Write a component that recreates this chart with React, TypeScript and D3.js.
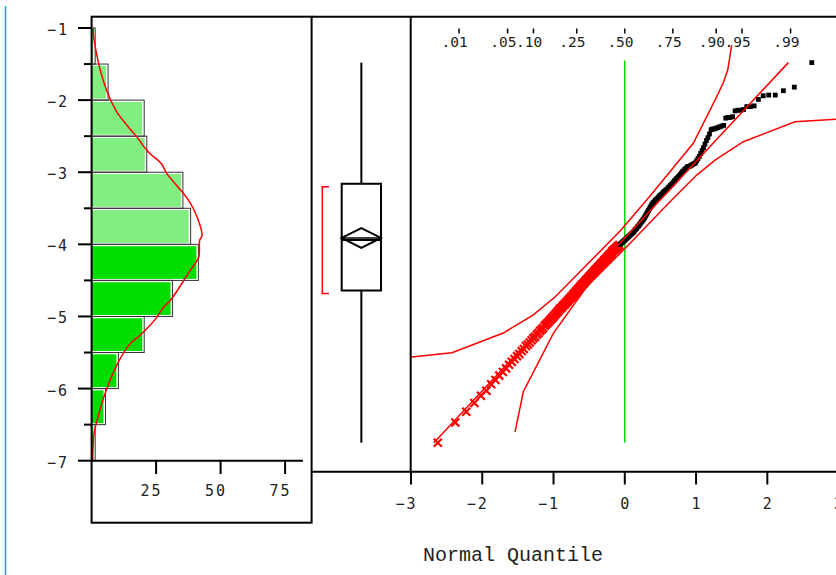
import React from 'react';
import * as d3 from 'd3';

const W = 836;
const H = 575;

const values = [
  -6.75,
  -6.47, -6.32, -6.2, -6.1, -6.03,
  -5.94, -5.88, -5.82, -5.77, -5.72, -5.67, -5.63, -5.59, -5.55, -5.52,
  -5.48, -5.45, -5.41, -5.39, -5.36, -5.33, -5.3, -5.28, -5.25, -5.23,
  -5.2, -5.18, -5.16, -5.13, -5.11, -5.09, -5.07, -5.05, -5.03, -5.01,
  -4.99, -4.97, -4.95, -4.93, -4.91, -4.89, -4.88, -4.86, -4.84, -4.83,
  -4.81, -4.8, -4.78, -4.76, -4.75, -4.73, -4.72, -4.7, -4.68, -4.67,
  -4.65, -4.64, -4.62, -4.61, -4.59, -4.58, -4.56, -4.55, -4.54, -4.52, -4.51,
  -4.49, -4.48, -4.47, -4.45, -4.44, -4.43, -4.41, -4.4, -4.39, -4.37,
  -4.36, -4.35, -4.34, -4.32, -4.31, -4.3, -4.29, -4.27, -4.26, -4.25,
  -4.24, -4.22, -4.21, -4.2, -4.19, -4.18, -4.16, -4.15, -4.14, -4.13,
  -4.12, -4.1, -4.09, -4.08, -4.07, -4.06, -4.05, -4.04, -4.03, -4.02, -4.01,
  -4.0, -3.99, -3.98, -3.97, -3.96, -3.95, -3.94, -3.93, -3.92, -3.91,
  -3.9, -3.89, -3.88, -3.87, -3.86, -3.85, -3.84, -3.83, -3.82,
  -3.8, -3.79, -3.78, -3.76, -3.75, -3.74, -3.72, -3.71, -3.69, -3.68,
  -3.66, -3.65, -3.63, -3.61, -3.59, -3.57, -3.55, -3.53, -3.51,
  -3.49, -3.47, -3.45, -3.43, -3.42, -3.41, -3.39, -3.38, -3.37, -3.36,
  -3.345, -3.33, -3.32, -3.31, -3.3, -3.28, -3.27, -3.26, -3.25, -3.24,
  -3.23, -3.21, -3.2, -3.18, -3.17, -3.16, -3.14, -3.12, -3.11, -3.09,
  -3.08, -3.06, -3.05,
  -3.03, -3.01, -2.99, -2.98, -2.96, -2.95, -2.93, -2.92, -2.92, -2.91,
  -2.9, -2.89, -2.88, -2.87, -2.84, -2.81, -2.78, -2.74, -2.7, -2.66,
  -2.61, -2.56,
  -2.52, -2.47, -2.41, -2.4, -2.4, -2.39, -2.38, -2.37, -2.36, -2.35,
  -2.25, -2.24, -2.24, -2.23, -2.15, -2.14, -2.14, -2.13, -2.09, -2.09, -2.08,
  -1.99, -1.94, -1.93, -1.93, -1.87, -1.82,
  -1.48,
];

const yTicks = [-1, -2, -3, -4, -5, -6, -7];
const yMinorTicks = [-1.5, -2.5, -3.5, -4.5, -5.5, -6.5];
const countTicks = [25, 50, 75];
const quantileTicks = [-3, -2, -1, 0, 1, 2, 3];
const probTicks = [0.01, 0.05, 0.1, 0.25, 0.5, 0.75, 0.9, 0.95, 0.99];
const probLabels = ['.01', '.05', '.10', '.25', '.50', '.75', '.90', '.95', '.99'];

// smooth density curve over the histogram (value, height in counts)
const densityValues = [-1.0, -1.17, -1.77, -2.16, -2.51, -2.72, -2.88, -3.02, -3.39, -3.62, -3.88, -3.94,
  -4.18, -4.36, -4.75, -4.89, -5.03, -5.26, -5.38, -5.63, -6.03, -6.47, -6.63, -7.0];
const densityCounts = [0.6, 1.0, 4.9, 9.7, 17.5, 22.0, 27.0, 29.2, 37.6, 40.9, 42.8, 41.9,
  41.5, 38.2, 31.1, 27.5, 24.9, 18.8, 14.9, 10.4, 5.6, 1.9, 0.9, 0.4];

// confidence bands of the quantile plot (normal quantile, value)
const upperBandQ = [-2.99, -2.425, -1.705, -1.288, -0.979, -0.053, 0.354, 0.961, 1.266, 1.382, 1.444, 1.5];
const upperBandV = [-5.563, -5.503, -5.23, -4.981, -4.731, -3.802, -3.33, -2.599, -1.999, -1.759, -1.583, -1.236];
const lowerBandQ = [-1.54, -1.424, -1.003, -0.535, 0.027, 0.634, 1.009, 1.266, 1.663, 2.388, 2.963];
const lowerBandV = [-6.599, -6.044, -5.234, -4.588, -4.033, -3.409, -3.039, -2.831, -2.577, -2.3, -2.266];

function probit(p: number): number {
  const a = [-39.69683028665376, 220.9460984245205, -275.9285104469687, 138.357751867269, -30.66479806614716, 2.506628277459239];
  const b = [-54.47609879822406, 161.5858368580409, -155.6989798598866, 66.80131188771972, -13.28068155288572];
  const c = [-0.007784894002430293, -0.3223964580411365, -2.400758277161838, -2.549732539343734, 4.374664141464968, 2.938163982698783];
  const d = [0.007784695709041462, 0.3224671290700398, 2.445134137142996, 3.754408661907416];
  const lo = 0.02425;
  if (p < lo) {
    const q = Math.sqrt(-2 * Math.log(p));
    return (((((c[0] * q + c[1]) * q + c[2]) * q + c[3]) * q + c[4]) * q + c[5]) / ((((d[0] * q + d[1]) * q + d[2]) * q + d[3]) * q + 1);
  }
  if (p > 1 - lo) return -probit(1 - p);
  const q = p - 0.5;
  const r = q * q;
  return (((((a[0] * r + a[1]) * r + a[2]) * r + a[3]) * r + a[4]) * r + a[5]) * q /
    (((((b[0] * r + b[1]) * r + b[2]) * r + b[3]) * r + b[4]) * r + 1);
}

const fmt = (v: number) => (v < 0 ? '\u2212' + Math.abs(v) : String(v));
const TICK_FONT = "'DejaVu Sans Mono', monospace";

export default function App() {
  const y = d3.scaleLinear().domain([-1, -7]).range([28, 460.7]);
  const cx = d3.scaleLinear().domain([0, 75]).range([91.6, 285.1]);
  const qx = d3.scaleLinear().domain([-3, 3]).range([411, 838.6]);

  const bins = d3.bin().domain([-7, -1]).thresholds(d3.range(-6.5, -1, 0.5))(values);

  const n = values.length;
  const points = values.map((v, i) => ({ v, q: probit((i + 1) / (n + 1)) }));

  const vMin = d3.min(values) as number;
  const vMax = d3.max(values) as number;
  const q1 = d3.quantile(values, 0.25) as number;
  const med = d3.quantile(values, 0.5) as number;
  const q3 = d3.quantile(values, 0.75) as number;
  const mean = d3.mean(values) as number;
  const sd = d3.deviation(values) as number;
  const ci = 1.97 * sd / Math.sqrt(n);

  // shortest half
  const k = Math.ceil(n / 2);
  let best = 0;
  for (let i = 0; i + k - 1 < n; i++) {
    if (values[i + k - 1] - values[i] < values[best + k - 1] - values[best]) best = i;
  }
  const shLo = values[best];
  const shHi = values[best + k - 1];

  const density = d3.line<number>()
    .x((_, i) => cx(densityCounts[i]))
    .y((v) => y(v))
    .curve(d3.curveCatmullRom)(densityValues);

  const upperBand = d3.line<number>().x((q) => qx(q)).y((_, i) => y(upperBandV[i]))(upperBandQ);
  const lowerBand = d3.line<number>().x((q) => qx(q)).y((_, i) => y(lowerBandV[i]))(lowerBandQ);

  const fit = d3.line<number>().x((v) => qx((v - mean) / sd)).y((v) => y(v))([vMin, vMax]);

  const boxL = 341.7;
  const boxR = 381;
  const boxC = (boxL + boxR) / 2;

  return (
    <>
      <style>{'body{margin:0}'}</style>
      <svg width={W} height={H} style={{ display: 'block', background: '#fff' }}>
        <line x1={5.5} x2={5.5} y1={6} y2={H} stroke="#1d9fe4" strokeWidth={1.5} />

        {/* histogram */}
        {bins.map((b, i) => {
          const top = y(b.x1 as number);
          const bot = y(b.x0 as number);
          const light = (b.x0 as number) >= -4;
          return (
            <g key={i}>
              <rect x={cx(0)} y={top + 1.8} width={Math.max(0, cx(b.length) - 1 - cx(0))} height={bot - top - 3.3}
                fill={light ? '#80ee80' : '#00dd00'} />
              <rect x={cx(0)} y={top} width={cx(b.length) + 1 - cx(0)} height={bot - top}
                fill="none" stroke="#333" strokeWidth={1} />
            </g>
          );
        })}
        <path d={density as string} fill="none" stroke="#ff0000" strokeWidth={1.5} />

        {/* histogram frame and axes */}
        <rect x={91.6} y={16.7} width={220} height={506} fill="none" stroke="#000" strokeWidth={2} />
        <line x1={91.6} x2={303} y1={y(-7)} y2={y(-7)} stroke="#000" strokeWidth={2} />
        {yTicks.map((t) => (
          <g key={t}>
            <line x1={78} x2={91.6} y1={y(t)} y2={y(t)} stroke="#000" strokeWidth={2} />
            <text x={69} y={y(t) + 7} textAnchor="end" fontFamily={TICK_FONT} fontSize={15}
              letterSpacing={2} fill="#222">{fmt(t)}</text>
          </g>
        ))}
        {yMinorTicks.map((t) => (
          <line key={t} x1={84} x2={91.6} y1={y(t)} y2={y(t)} stroke="#000" strokeWidth={2} />
        ))}
        {countTicks.map((t) => (
          <g key={t}>
            <line x1={cx(t)} x2={cx(t)} y1={y(-7)} y2={474} stroke="#000" strokeWidth={2} />
            <text x={cx(t) + 6.5} y={496} textAnchor="end" fontFamily={TICK_FONT} fontSize={15}
              letterSpacing={2} fill="#222">{t}</text>
          </g>
        ))}

        {/* box plot */}
        <line x1={boxC} x2={boxC} y1={y(vMax)} y2={y(q3)} stroke="#000" strokeWidth={2} />
        <line x1={boxC} x2={boxC} y1={y(q1)} y2={y(vMin)} stroke="#000" strokeWidth={2} />
        <rect x={boxL} y={y(q3)} width={boxR - boxL} height={y(q1) - y(q3)} fill="none" stroke="#000" strokeWidth={2} />
        <line x1={boxL} x2={boxR} y1={y(med)} y2={y(med)} stroke="#000" strokeWidth={2} />
        <path d={`M${boxL},${y(mean)}L${boxC},${y(mean + ci)}L${boxR},${y(mean)}L${boxC},${y(mean - ci)}Z`}
          fill="none" stroke="#000" strokeWidth={2} />
        <line x1={boxL} x2={boxR} y1={y(mean)} y2={y(mean)} stroke="#000" strokeWidth={1.5} />
        <path d={`M329,${y(shHi)}H322.3V${y(shLo)}H329`} fill="none" stroke="#ff0000" strokeWidth={1.5} />

        {/* quantile plot */}
        <defs>
          <clipPath id="qq">
            <rect x={411} y={17} width={W - 411} height={454} />
          </clipPath>
        </defs>
        <g clipPath="url(#qq)">
          <line x1={qx(0)} x2={qx(0)} y1={y(vMax) - 2} y2={y(vMin)} stroke="#00dd00" strokeWidth={1.5} />
          <path d={upperBand as string} fill="none" stroke="#ff0000" strokeWidth={1.5} />
          <path d={lowerBand as string} fill="none" stroke="#ff0000" strokeWidth={1.5} />
          {points.map((p, i) =>
            p.v < -4 ? (
              <path key={i} transform={`translate(${qx(p.q)},${y(p.v)})`} d="M-4,-4L4,4M-4,4L4,-4"
                stroke="#ff0000" strokeWidth={2.2} fill="none" />
            ) : (
              <rect key={i} x={qx(p.q) - 2.4} y={y(p.v) - 2.4} width={4.8} height={4.8} fill="#000" />
            )
          )}
          <path d={fit as string} fill="none" stroke="#ff0000" strokeWidth={1.5} />
        </g>

        {/* panel frames */}
        <line x1={311.6} x2={W} y1={16.7} y2={16.7} stroke="#000" strokeWidth={2} />
        <line x1={410.7} x2={410.7} y1={16.7} y2={471.7} stroke="#000" strokeWidth={2} />
        <line x1={311.6} x2={W} y1={471.7} y2={471.7} stroke="#000" strokeWidth={2} />
        {quantileTicks.map((t) => (
          <g key={t}>
            <line x1={qx(t)} x2={qx(t)} y1={471.7} y2={484.5} stroke="#000" strokeWidth={2} />
            <text x={qx(t) + 6.5} y={508.8} textAnchor="end" fontFamily={TICK_FONT} fontSize={15}
              letterSpacing={2} fill="#222">{fmt(t)}</text>
          </g>
        ))}
        {probTicks.map((p, i) => (
          <g key={p}>
            <line x1={qx(probit(p))} x2={qx(probit(p))} y1={28.5} y2={33.5} stroke="#000" strokeWidth={1.5} />
            <text x={qx(probit(p)) - 4.3} y={47} textAnchor="middle" fontFamily={TICK_FONT} fontSize={14.5}
              fill="#222">{probLabels[i]}</text>
          </g>
        ))}
        <text x={513} y={561} textAnchor="middle" fontFamily="'Liberation Mono', monospace" fontSize={20}
          fill="#222">Normal Quantile</text>
      </svg>
    </>
  );
}
